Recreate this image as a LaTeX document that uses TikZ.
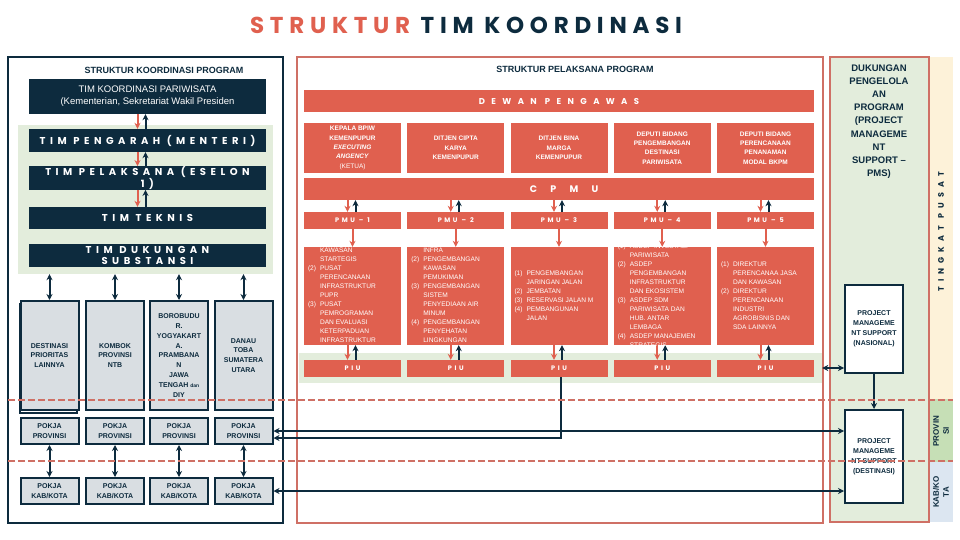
\documentclass[tikz,border=0pt]{standalone}
\usepackage{fontspec}
\setmainfont{Liberation Sans}
\newfontfamily\capsfont{Poppins}
\usetikzlibrary{arrows.meta}

\definecolor{navy}{HTML}{0D2B3E}
\definecolor{salmon}{HTML}{E0604F}
\definecolor{salmonline}{HTML}{CF7065}
\definecolor{palegreen}{HTML}{E3EDDC}
\definecolor{greyfill}{HTML}{D9DEE2}
\definecolor{pusatbg}{HTML}{FDF2D9}
\definecolor{provbg}{HTML}{C6DFB6}
\definecolor{kabbg}{HTML}{DCE6F1}

\tikzset{
  navybox/.style={fill=navy, text=white, inner sep=0, minimum width=237, minimum height=23, align=center,
    font={\capsfont\bfseries\fontsize{10}{11}\selectfont\addfontfeature{LetterSpace=45}}},
  greybox/.style={fill=greyfill, draw=navy, line width=2, inner sep=0, minimum width=58, align=center,
    text=navy, font={\bfseries\fontsize{7}{9.9}\selectfont}},
  redbar/.style={fill=salmon, text=white, inner sep=0, minimum width=510, minimum height=22,
    font={\capsfont\bfseries\fontsize{8.5}{10}\selectfont\addfontfeature{LetterSpace=75}}},
  headbox/.style={fill=salmon, text=white, inner sep=0, minimum width=97, minimum height=50, align=center,
    font={\bfseries\fontsize{6.5}{9.3}\selectfont}},
  unitbox/.style={fill=salmon, text=white, inner sep=0, minimum width=97, minimum height=17,
    font={\capsfont\bfseries\fontsize{6.5}{8}\selectfont\addfontfeature{LetterSpace=40}}},
  bodybox/.style={fill=salmon, inner sep=0, minimum width=97, minimum height=98},
  bodytext/.style={text=white, inner sep=0, anchor=west, font={\fontsize{6.6}{9}\selectfont}},
  pmsbox/.style={fill=white, draw=navy, line width=2, inner sep=0, minimum width=58, align=center,
    text=navy, font={\bfseries\fontsize{7}{10}\selectfont}},
  striptext/.style={navy, rotate=90, inner sep=0, align=center},
  downarr/.style={->, salmon, line width=2},
  uparr/.style={->, navy, line width=2},
  dblarr/.style={<->, navy, line width=2},
  bandline/.style={salmonline, line width=2.5, dash pattern=on 7pt off 3pt},
}

\begin{document}
\begin{tikzpicture}[x=1pt, y=-1pt, >={Stealth[length=6pt,width=6pt]}]
  \useasboundingbox (0,0) rectangle (960,540);
  \fill[white] (0,0) rectangle (960,540);
  \node[navy, font={\capsfont\bfseries\fontsize{23}{26}\selectfont\addfontfeature{LetterSpace=25}}] (title) at (466,25)
    {\textcolor{salmon}{STRUKTUR} TIM KOORDINASI};

  % kiri: struktur koordinasi program
  \draw[navy, line width=2.5] (8,57) rectangle (283,523);
  \node[navy, font={\bfseries\fontsize{9}{10}\selectfont}] (koorlabel) at (164,70) {STRUKTUR KOORDINASI PROGRAM};
  \node[fill=palegreen, minimum width=255, minimum height=149, inner sep=0] (greenpanel) at (145.5,199.5) {};
  \node[navybox, minimum height=35, font={\fontsize{9.5}{12}\selectfont}] (timkoor) at (147.5,96.5)
    {TIM KOORDINASI PARIWISATA\\(Kementerian, Sekretariat Wakil Presiden};
  \node[navybox] (pengarah) at (147.5,140.5) {TIM PENGARAH (MENTERI)};
  \node[navybox, minimum height=22] (pelaksana) at (147.5,178) {TIM PELAKSANA (ESELON\\1)};
  \node[navybox, minimum height=22] (teknis) at (147.5,218) {TIM TEKNIS};
  \node[navybox] (dukungan) at (147.5,255.5) {TIM DUKUNGAN\\SUBSTANSI};
  \foreach \a/\b in {timkoor/pengarah, pengarah/pelaksana, pelaksana/teknis} {
    \draw[downarr] ([xshift=-10]\a.south) -- ([xshift=-10]\b.north);
    \draw[uparr] ([xshift=-2]\b.north) -- ([xshift=-2]\a.south);
  }
  \draw[navy, line width=1.5] (20,304) rectangle (77,413);
  \foreach \i/\cx/\txt in {1/49.5/{DESTINASI\\PRIORITAS\\LAINNYA}, 2/115/{KOMBOK\\PROVINSI\\NTB},
      3/179/{BOROBUDU\\R.\\YOGYAKART\\A.\\PRAMBANA\\N\\JAWA\\TENGAH {\fontsize{5}{9.9}\selectfont dan}\\DIY},
      4/243.5/{DANAU\\TOBA\\SUMATERA\\UTARA}} {
    \node[greybox, minimum height=109] (dest\i) at (\cx,355.5) {\txt};
    \draw[dblarr] (dest\i.north |- greenpanel.south) -- (dest\i.north);
    \node[greybox, minimum height=26] (pokjaprov\i) at (\cx,431) {POKJA\\PROVINSI};
    \node[greybox, minimum height=26] (pokjakab\i) at (\cx,491) {POKJA\\KAB/KOTA};
    \draw[dblarr] (pokjaprov\i) -- (pokjakab\i);
  }

  % tengah: struktur pelaksana program
  \draw[salmonline, line width=2.5] (297,57) rectangle (823,523);
  \node[navy, font={\bfseries\fontsize{9}{10}\selectfont}] (pelabel) at (575,69) {STRUKTUR PELAKSANA PROGRAM};
  \node[redbar] (dewan) at (559,101.5) {DEWAN PENGAWAS};
  \node[redbar, font={\capsfont\bfseries\fontsize{9.5}{10}\selectfont\addfontfeature{LetterSpace=140}}] (cpmu) at (559,189) {\hspace*{10pt}CPMU};
  \node[fill=palegreen, minimum width=523, minimum height=30, inner sep=0] (piuband) at (560.5,368) {};
  \foreach \i/\txt in {1/{KEPALA BPIW\\KEMENPUPUR\\\textit{EXECUTING}\\\textit{ANGENCY}\\{\mdseries(KETUA)}},
      2/{DITJEN CIPTA\\KARYA\\KEMENPUPUR}, 3/{DITJEN BINA\\MARGA\\KEMENPUPUR},
      4/{DEPUTI BIDANG\\PENGEMBANGAN\\DESTINASI\\PARIWISATA}, 5/{DEPUTI BIDANG\\PERENCANAAN\\PENANAMAN\\MODAL BKPM}} {
    \pgfmathsetmacro\cx{352.5+103.25*(\i-1)}
    \node[headbox] (head\i) at (\cx,148) {\txt};
    \node[unitbox] (pmu\i) at (\cx,220.5) {PMU – \i};
    \node[bodybox] (body\i) at (\cx,296) {};
    \node[unitbox] (piu\i) at (\cx,368.5) {PIU};
    \draw[downarr] ([xshift=-5]pmu\i.north |- cpmu.south) -- ([xshift=-5]pmu\i.north);
    \draw[uparr] ([xshift=3]pmu\i.north) -- ([xshift=3]pmu\i.north |- cpmu.south);
    \draw[downarr] (pmu\i) -- (body\i);
    \draw[downarr] ([xshift=-5]body\i.south) -- ([xshift=-5]piu\i.north);
    \draw[uparr] ([xshift=3]piu\i.north) -- ([xshift=3]body\i.south);
  }
  \foreach \i/\rows in {
      1/{&KAWASAN\\&STARTEGIS\\(2)&PUSAT\\&PERENCANAAN\\&INFRASTRUKTUR\\&PUPR\\(3)&PUSAT\\&PEMROGRAMAN\\&DAN EVALUASI\\&KETERPADUAN\\&INFRASTRUKTUR},
      2/{&INFRA\\(2)&PENGEMBANGAN\\&KAWASAN\\&PEMUKIMAN\\(3)&PENGEMBANGAN\\&SISTEM\\&PENYEDIAAN AIR\\&MINUM\\(4)&PENGEMBANGAN\\&PENYEHATAN\\&LINGKUNGAN},
      3/{(1)&PENGEMBANGAN\\&JARINGAN JALAN\\(2)&JEMBATAN\\(3)&RESERVASI JALAN M\\(4)&PEMBANGUNAN\\&JALAN},
      4/{(1)&ASDEP INVESTASI\\&PARIWISATA\\(2)&ASDEP\\&PENGEMBANGAN\\&INFRASTRUKTUR\\&DAN EKOSISTEM\\(3)&ASDEP SDM\\&PARIWISATA DAN\\&HUB. ANTAR\\&LEMBAGA\\(4)&ASDEP MANAJEMEN\\&STRATEGIS},
      5/{(1)&DIREKTUR\\&PERENCANAA JASA\\&DAN KAWASAN\\(2)&DIREKTUR\\&PERENCANAAN\\&INDUSTRI\\&AGROBISNIS DAN\\&SDA LAINNYA}} {
    \begin{scope}
      \clip (body\i.north west) rectangle (body\i.south east);
      \node[bodytext] (bodytxt\i) at ([xshift=4]body\i.west)
        {\begin{tabular}{@{}l@{\hspace{4pt}}l@{}}\rows\end{tabular}};
    \end{scope}
  }

  % kanan: dukungan pengelolaan program
  \fill[pusatbg] (930,57) rectangle (953,399);
  \fill[provbg] (930,399) rectangle (953,462);
  \fill[kabbg] (930,462) rectangle (953,522);
  \draw[salmonline, line width=2.5, fill=palegreen] (830,57) rectangle (929,522);
  \node[striptext, font={\capsfont\bfseries\fontsize{8}{10}\selectfont\addfontfeature{LetterSpace=64}}] (pusat) at (941,232) {TINGKAT PUSAT};
  \node[striptext, font={\bfseries\fontsize{8}{10}\selectfont}] (prov) at (941,431) {PROVIN\\SI};
  \node[striptext, font={\bfseries\fontsize{8}{10}\selectfont}] (kab) at (941,492) {KAB/KO\\TA};
  \node[navy, anchor=north, align=center, font={\bfseries\fontsize{9.5}{13.2}\selectfont}] (pmslabel) at (879,61)
    {DUKUNGAN\\PENGELOLA\\AN\\PROGRAM\\(PROJECT\\MANAGEME\\NT\\SUPPORT –\\PMS)};
  \node[pmsbox, minimum height=88] (pmsnas) at (874,329) {PROJECT\\MANAGEME\\NT SUPPORT\\(NASIONAL)};
  \node[pmsbox, minimum height=93] (pmsdes) at (874,456.5) {PROJECT\\MANAGEME\\NT SUPPORT\\(DESTINASI)};
  \draw[uparr] (pmsnas) -- (pmsdes);

  % penghubung antar tingkat
  \draw[dblarr] (piuband.east) -- (piuband.east -| pmsnas.west);
  \draw[dblarr] (pokjaprov4.east) -- (pokjaprov4.east -| pmsdes.west);
  \draw[uparr] ([xshift=2]piu3.south) |- ([yshift=-7]pokjaprov4.east);
  \draw[dblarr] (pokjakab4.east) -- (pokjakab4.east -| pmsdes.west);
  \draw[bandline] (8,400) -- (953,400);
  \draw[bandline] (8,461) -- (953,461);
\end{tikzpicture}
\end{document}
